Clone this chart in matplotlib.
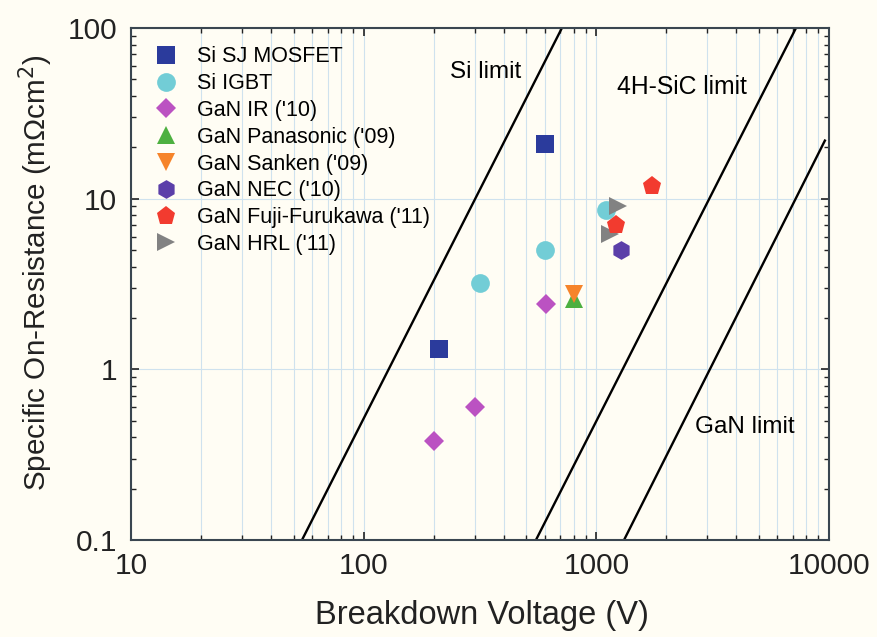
import numpy as np
import matplotlib
matplotlib.use('Agg')
import matplotlib.pyplot as plt
from matplotlib.ticker import LogLocator, FixedLocator, NullFormatter

plt.rcParams['font.family'] = ['Liberation Sans', 'DejaVu Sans']

# series: breakdown voltage (V), on-resistance (mOhm cm2)
series_names = ['Si SJ MOSFET', 'Si IGBT', "GaN IR ('10)", "GaN Panasonic ('09)",
                "GaN Sanken ('09)", "GaN NEC ('10)", "GaN Fuji-Furukawa ('11)", "GaN HRL ('11)"]
si_sj_v = [210, 600]
si_sj_r = [1.32, 21.0]
si_igbt_v = [316, 600, 1100]
si_igbt_r = [3.2, 5.0, 8.6]
gan_ir_v = [200, 300, 610]
gan_ir_r = [0.38, 0.6, 2.4]
panasonic_v = [800]
panasonic_r = [2.6]
sanken_v = [800]
sanken_r = [2.78]
nec_v = [1270]
nec_r = [5.0]
fuji_v = [1220, 1730]
fuji_r = [7.0, 11.9]
hrl_v = [1150, 1240]
hrl_r = [6.2, 9.0]

# material limit lines (end points)
si_limit_v = [54.3, 711]
si_limit_r = [0.1, 100]
sic_limit_v = [550, 7210]
sic_limit_r = [0.1, 100]
gan_limit_v = [1315, 9600]
gan_limit_r = [0.1, 21.9]

bg = '#fffdf4'
fig = plt.figure(figsize=(8.77, 6.37), dpi=100, facecolor=bg)
ax = fig.add_axes([0.1494, 0.1523, 0.7959, 0.8037], facecolor=bg)
ax.set_xscale('log')
ax.set_yscale('log')
ax.set_xlim(10, 10000)
ax.set_ylim(0.1, 100)

# grid: every x tick (major + minor), only major on y
ax.xaxis.set_minor_locator(LogLocator(base=10, subs=np.arange(2, 10)))
ax.yaxis.set_minor_locator(LogLocator(base=10, subs=np.arange(2, 10)))
ax.grid(True, which='both', axis='x', color='#cfe2ee', lw=0.8)
ax.grid(True, which='major', axis='y', color='#cfe2ee', lw=0.8)
ax.set_axisbelow(True)

lw_lim = 1.7
ax.plot(si_limit_v, si_limit_r, color='black', lw=lw_lim, zorder=2)
ax.plot(sic_limit_v, sic_limit_r, color='black', lw=lw_lim, zorder=2)
ax.plot(gan_limit_v, gan_limit_r, color='black', lw=lw_lim, zorder=2)

mk = dict(linestyle='none', markeredgewidth=0)
ax.plot(si_sj_v, si_sj_r, 's', color='#2b3b9c', ms=12.5, label=series_names[0], zorder=3, **mk)
ax.plot(si_igbt_v, si_igbt_r, 'o', color='#72cdd6', ms=13.5, label=series_names[1], zorder=3, **mk)
ax.plot(gan_ir_v, gan_ir_r, 'D', color='#bb52c2', ms=10.5, label=series_names[2], zorder=3, **mk)
ax.plot(panasonic_v, panasonic_r, '^', color='#4db040', ms=12.5, label=series_names[3], zorder=3, **mk)
ax.plot(sanken_v, sanken_r, 'v', color='#f6842a', ms=12.5, label=series_names[4], zorder=4, **mk)
ax.plot(nec_v, nec_r, 'h', color='#5b3fa9', ms=13.5, label=series_names[5], zorder=3, **mk)
ax.plot(fuji_v, fuji_r, 'p', color='#f23b2f', ms=14, label=series_names[6], zorder=5, **mk)
ax.plot(hrl_v, hrl_r, '>', color='#828282', ms=13, label=series_names[7], zorder=4, **mk)

ax.text(235, 55, 'Si limit', fontsize=17.5, ha='left', va='center')
ax.text(1225, 45, '4H-SiC limit', fontsize=17.8, ha='left', va='center')
ax.text(2656, 0.46, 'GaN limit', fontsize=17.5, ha='left', va='center')

ax.xaxis.set_major_locator(FixedLocator([10, 100, 1000, 10000]))
ax.set_xticklabels(['10', '100', '1000', '10000'])
ax.yaxis.set_major_locator(FixedLocator([0.1, 1, 10, 100]))
ax.set_yticklabels(['0.1', '1', '10', '100'])
ax.xaxis.set_minor_formatter(NullFormatter())
ax.yaxis.set_minor_formatter(NullFormatter())
ax.tick_params(which='both', direction='in', top=True, right=True, colors='#222222',
               labelsize=21.5)
ax.tick_params(which='major', length=6, width=1.2)
ax.tick_params(which='minor', length=3.5, width=1.0)
ax.tick_params(axis='x', pad=9)
ax.tick_params(axis='y', pad=10)
for s in ax.spines.values():
    s.set_color('#3a4650')
    s.set_linewidth(1.5)

ax.set_xlabel('Breakdown Voltage (V)', fontsize=23.5, color='#222222')
ax.set_ylabel('Specific On-Resistance (m\u03a9cm$^2$)', fontsize=21.3, color='#222222')
ax.xaxis.set_label_coords(0.503, -0.118)
ax.yaxis.set_label_coords(-0.109, 0.523)

ax.legend(loc='upper left', bbox_to_anchor=(0.0226, 0.977), frameon=False,
          fontsize=15.5, numpoints=1, labelspacing=0.27, handletextpad=0.85,
          handlelength=1.2, borderaxespad=0, borderpad=0.3)

fig.savefig('out.png', dpi=100, facecolor=bg)
